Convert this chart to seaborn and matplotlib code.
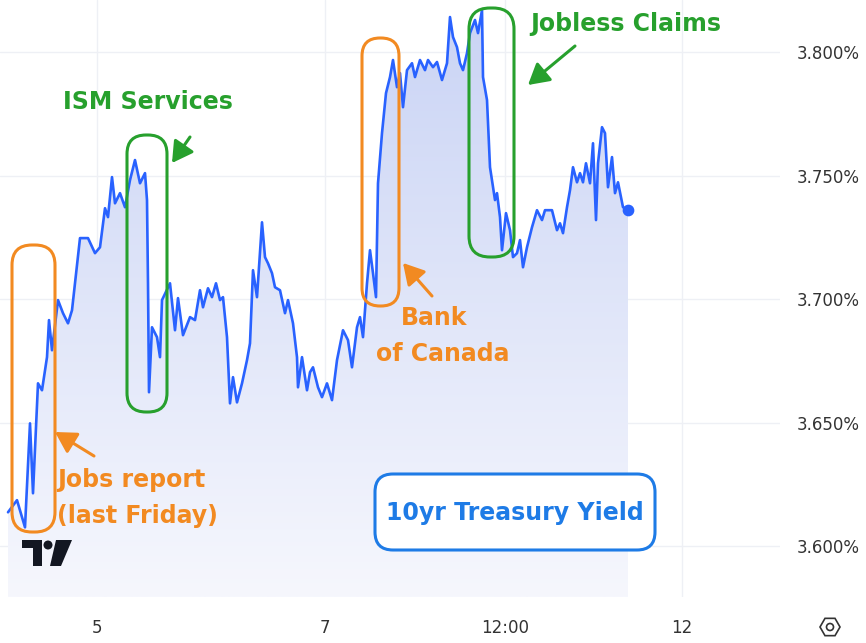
import numpy as np
import pandas as pd
import matplotlib
matplotlib.use("Agg")
import matplotlib.pyplot as plt
import seaborn as sns
from matplotlib.colors import LinearSegmentedColormap
from matplotlib.patches import FancyBboxPatch, Polygon, RegularPolygon, Circle
from matplotlib.transforms import IdentityTransform

# bar index (compressed intraday time axis) and 10yr yield in %
bars = [8, 17, 20, 25, 30, 33, 38, 42, 47, 49, 52, 58, 63, 68, 72, 80, 88, 95, 100, 105,
        108, 112, 115, 120, 125, 130, 135, 140, 145, 147, 148, 149, 152, 157, 160, 162, 170, 175, 178, 183,
        190, 195, 200, 203, 208, 212, 216, 220, 223, 227, 230, 233, 237, 242, 247, 250, 253, 257, 262, 265,
        268, 272, 275, 280, 285, 288, 293, 297, 298, 302, 307, 310, 313, 318, 322, 327, 332, 337, 343, 348,
        352, 357, 360, 363, 367, 370, 373, 376, 378, 382, 386, 390, 393, 397, 400, 403, 407, 412, 415, 420,
        425, 428, 433, 437, 442, 447, 450, 453, 457, 460, 463, 467, 470, 475, 478, 482, 483, 487, 490, 493,
        495, 497, 500, 502, 506, 510, 513, 517, 520, 523, 527, 532, 537, 542, 545, 552, 557, 560, 563, 567,
        570, 573, 577, 580, 583, 586, 590, 593, 596, 598, 602, 605, 608, 612, 615, 618, 623, 628]
yields = [3.6137, 3.6186, 3.6145, 3.6076, 3.6497, 3.6214, 3.6659, 3.6631, 3.6765, 3.6915,
          3.6793, 3.6996, 3.6943, 3.6902, 3.6955, 3.7247, 3.7247, 3.7186, 3.7210, 3.7368,
          3.7332, 3.7494, 3.7388, 3.7429, 3.7372, 3.7482, 3.7563, 3.7469, 3.7510, 3.7401,
          3.7064, 3.6623, 3.6886, 3.6846, 3.6765, 3.6996, 3.7064, 3.6874, 3.7004, 3.6854,
          3.6927, 3.6915, 3.7036, 3.6967, 3.7044, 3.7008, 3.7064, 3.6996, 3.7008, 3.6846,
          3.6578, 3.6684, 3.6582, 3.6659, 3.6753, 3.6821, 3.7117, 3.7008, 3.7311, 3.7170,
          3.7145, 3.7105, 3.7048, 3.7036, 3.6943, 3.6996, 3.6902, 3.6765, 3.6643, 3.6765,
          3.6631, 3.6704, 3.6724, 3.6643, 3.6603, 3.6659, 3.6591, 3.6753, 3.6874, 3.6834,
          3.6724, 3.6886, 3.6927, 3.6846, 3.7064, 3.7198, 3.7105, 3.7008, 3.7469, 3.7672,
          3.7834, 3.7899, 3.7968, 3.7858, 3.7915, 3.7777, 3.7927, 3.7955, 3.7899, 3.7968,
          3.7927, 3.7968, 3.7939, 3.7960, 3.7887, 3.7955, 3.8142, 3.8061, 3.8020, 3.7955,
          3.7927, 3.7996, 3.8077, 3.8130, 3.8077, 3.8170, 3.7899, 3.7806, 3.7534, 3.7453,
          3.7401, 3.7429, 3.7332, 3.7198, 3.7348, 3.7279, 3.7170, 3.7186, 3.7239, 3.7129,
          3.7210, 3.7291, 3.7360, 3.7320, 3.7360, 3.7360, 3.7279, 3.7307, 3.7267, 3.7372,
          3.7441, 3.7534, 3.7473, 3.7510, 3.7473, 3.7550, 3.7469, 3.7631, 3.7320, 3.7550,
          3.7696, 3.7672, 3.7453, 3.7575, 3.7429, 3.7473, 3.7372, 3.7360]

tick_pos = [97, 325, 505, 682]
tick_labels = ["5", "7", "12:00", "12"]
y_ticks = [3.60, 3.65, 3.70, 3.75, 3.80]

df = pd.DataFrame({"bar": bars, "yield": yields})

sns.set_style("white")
plt.rcParams["font.family"] = ["DejaVu Sans"]

W, H = 866, 643
fig = plt.figure(figsize=(W / 100, H / 100), dpi=100)
ax = fig.add_axes([0, 1 - 597 / H, 780 / W, 597 / H])

ymin, ymax = 3.5794, 3.8211
line_c = "#2962ff"

# gradient fill under the line
fill = ax.fill_between(df["bar"], df["yield"], ymin, color="none", lw=0)
cmap = LinearSegmentedColormap.from_list("fade", ["#f6f7fd", "#cad4f5"])
grad = np.linspace(1, 0, 256).reshape(-1, 1)
img = ax.imshow(grad, extent=[bars[0], bars[-1], ymin, max(yields)], origin="upper",
                aspect="auto", cmap=cmap, zorder=1)
img.set_clip_path(fill.get_paths()[0], transform=ax.transData)

sns.lineplot(data=df, x="bar", y="yield", color=line_c, lw=1.9, ax=ax, zorder=3)
ax.scatter([bars[-1]], [yields[-1]], s=55, color=line_c, zorder=4)

ax.set_xlim(0, 780)
ax.set_ylim(ymin, ymax)
ax.set_xticks(tick_pos)
ax.set_xticklabels(tick_labels)
ax.set_yticks(y_ticks)
ax.set_yticklabels([f"{v:.3f}%" for v in y_ticks])
ax.yaxis.tick_right()
ax.tick_params(axis="y", length=0, pad=12, labelsize=12, labelcolor="#333333")
ax.tick_params(axis="x", length=0, pad=16, labelsize=12, labelcolor="#333333")
ax.set_xlabel("")
ax.set_ylabel("")
ax.grid(True, color="#eef0f5", lw=1)
ax.set_axisbelow(True)
for s in ax.spines.values():
    s.set_visible(False)

orange = "#f28a21"
green = "#27a02d"
blue = "#1e7be6"


def box(x0, y0, x1, y1, color, r, fc="none", lw=2.2):
    p = FancyBboxPatch((x0, H - y1), x1 - x0, y1 - y0,
                       boxstyle=f"round,pad=0,rounding_size={r}",
                       transform=IdentityTransform(), ec=color, fc=fc, lw=lw, zorder=6)
    fig.add_artist(p)


def arrow(tail, head, color):
    ax.annotate("", xy=(head[0], H - head[1]), xytext=(tail[0], H - tail[1]),
                xycoords="figure pixels", textcoords="figure pixels",
                arrowprops=dict(arrowstyle="-|>,head_length=0.7,head_width=0.4", color=color,
                                lw=2.2, mutation_scale=18, shrinkA=0, shrinkB=0))


def label(x, y, s, color, ha="left"):
    fig.text(x / W, 1 - y / H, s, color=color, fontsize=17, fontweight="bold",
             ha=ha, va="center", zorder=8)


# Jobs report
box(12, 245, 55, 532, orange, 20)
arrow((94, 456), (55, 432), orange)
label(57, 480, "Jobs report", orange)
label(57, 516, "(last Friday)", orange)

# ISM Services
box(127, 135, 167, 412, green, 19)
arrow((190, 137), (172, 163), green)
label(148, 102, "ISM Services", green, ha="center")

# Bank of Canada
box(362, 38, 399, 306, orange, 18)
arrow((432, 296), (403, 263), orange)
label(434, 318, "Bank", orange, ha="center")
label(443, 354, "of Canada", orange, ha="center")

# Jobless Claims
box(469, 8, 514, 257, green, 21)
arrow((575, 46), (528, 85), green)
label(530, 24, "Jobless Claims", green)

# title box
box(375, 474, 655, 550, blue, 18, fc="white")
label(515, 513, "10yr Treasury Yield", blue, ha="center")

# TradingView-like logo
tv = [Polygon([(22, H - 540), (42, H - 540), (42, H - 566), (33, H - 566), (33, H - 548), (22, H - 548)]),
      Circle((48, H - 545), 4.5),
      Polygon([(56, H - 540), (72, H - 540), (61, H - 566), (50, H - 566)])]
for p in tv:
    p.set_transform(IdentityTransform())
    p.set_facecolor("#131722")
    p.set_edgecolor("none")
    p.set_zorder(6)
    fig.add_artist(p)

# settings icon
hexa = RegularPolygon((830, H - 627), numVertices=6, radius=10, orientation=np.pi / 6,
                      transform=IdentityTransform(), fc="none", ec="#333333", lw=1.2)
dot = Circle((830, H - 627), 3.5, transform=IdentityTransform(), fc="none", ec="#333333", lw=1.2)
fig.add_artist(hexa)
fig.add_artist(dot)

fig.savefig("out.png", dpi=100, facecolor="white")
